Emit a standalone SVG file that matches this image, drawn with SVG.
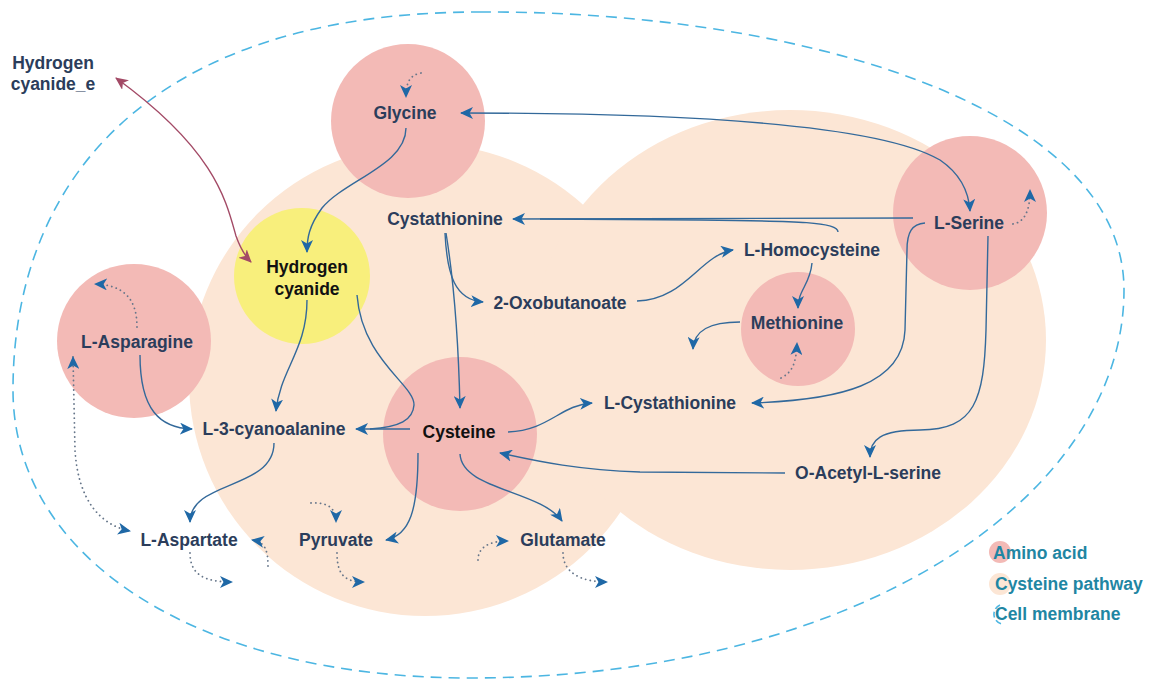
<svg xmlns="http://www.w3.org/2000/svg" width="1151" height="683" viewBox="0 0 1151 683">
<style>
.lbl{font-family:"Liberation Sans",Arial,sans-serif;font-weight:bold;font-size:17.5px;fill:#2b3d5b;text-anchor:middle}
.blk{fill:#111111}
.leg{font-family:"Liberation Sans",Arial,sans-serif;font-weight:bold;font-size:17.5px;fill:#1f86a3}
.aa{fill:#f3bab6}
.pw{fill:#fce6d5}
.hcn{fill:#f8ef7c}
.c{fill:none;stroke:#33699a;stroke-width:1.4}
.d{fill:none;stroke:#66768a;stroke-width:1.8;stroke-dasharray:0.1 4.6;stroke-linecap:round}
.m{fill:none;stroke:#a34a66;stroke-width:1.4}
</style>
<defs>
<marker id="ah" markerUnits="userSpaceOnUse" markerWidth="13" markerHeight="12" viewBox="0 0 13 12" refX="12" refY="6" orient="auto-start-reverse">
<path d="M0,0 L13,6 L0,12 L3.5,6 z" fill="#1f68a6"/>
</marker>
<marker id="ahm" markerUnits="userSpaceOnUse" markerWidth="13" markerHeight="12" viewBox="0 0 13 12" refX="12" refY="6" orient="auto-start-reverse">
<path d="M0,0 L13,6 L0,12 L3.5,6 z" fill="#a34a66"/>
</marker>
</defs>
<rect width="1151" height="683" fill="#ffffff"/>
<g id="cell-membrane">
<path d="M480,12 C780,10 1124,100 1124,290 C1124,500 850,678 470,678 C200,678 13,560 13,390 C13,180 150,12 480,12 Z" fill="none" stroke="#4cb6e2" stroke-width="1.6" stroke-dasharray="11 7"/>
</g>
<g id="cysteine-pathway">
<ellipse class="pw" cx="425" cy="380" rx="236" ry="236"/>
<ellipse class="pw" cx="790" cy="340" rx="256" ry="230"/>
</g>
<g id="node-glycine"><circle class="aa" cx="408" cy="121" r="77"/><text class="lbl" x="405" y="119">Glycine</text></g>
<g id="node-l-serine"><circle class="aa" cx="970" cy="213" r="77"/><text class="lbl" x="969" y="229">L-Serine</text></g>
<g id="node-l-asparagine"><circle class="aa" cx="134" cy="341" r="77"/><text class="lbl" x="137" y="348">L-Asparagine</text></g>
<g id="node-cysteine"><circle class="aa" cx="460" cy="434" r="77"/><text class="lbl blk" x="459" y="438">Cysteine</text></g>
<g id="node-methionine"><circle class="aa" cx="798" cy="329" r="57"/><text class="lbl" x="797" y="329">Methionine</text></g>
<g id="node-hydrogen-cyanide"><circle class="hcn" cx="302" cy="276" r="68"/><text class="lbl blk" x="307" y="273">Hydrogen</text><text class="lbl blk" x="307" y="295">cyanide</text></g>
<g id="node-hydrogen-cyanide-e"><text class="lbl" x="53" y="69">Hydrogen</text><text class="lbl" x="53" y="90">cyanide_e</text></g>
<g id="node-cystathionine"><text class="lbl" x="445" y="225">Cystathionine</text></g>
<g id="node-2-oxobutanoate"><text class="lbl" x="560" y="309">2-Oxobutanoate</text></g>
<g id="node-l-homocysteine"><text class="lbl" x="812" y="256">L-Homocysteine</text></g>
<g id="node-l-3-cyanoalanine"><text class="lbl" x="274" y="435">L-3-cyanoalanine</text></g>
<g id="node-l-cystathionine"><text class="lbl" x="670" y="409">L-Cystathionine</text></g>
<g id="node-o-acetyl-l-serine"><text class="lbl" x="868" y="479">O-Acetyl-L-serine</text></g>
<g id="node-l-aspartate"><text class="lbl" x="189" y="546">L-Aspartate</text></g>
<g id="node-pyruvate"><text class="lbl" x="336" y="546">Pyruvate</text></g>
<g id="node-glutamate"><text class="lbl" x="563" y="546">Glutamate</text></g>
<g id="connectors">
<path class="m" d="M116,78 C215,150 226,200 236,236 C241,250 245,256 251,262" marker-start="url(#ahm)" marker-end="url(#ahm)"/>
<path class="c" d="M406,128 C406,165 345,180 322,208 C309,226 307,238 307,252" marker-end="url(#ah)"/>
<path class="c" d="M461,113 C700,113 880,125 940,160 C962,175 969,195 970,211" marker-start="url(#ah)" marker-end="url(#ah)"/>
<path class="c" d="M913,218 L513,219" marker-end="url(#ah)"/>
<path class="c" d="M838,232 C838,222 800,221 700,220 L540,219"/>
<path class="c" d="M445,233 C447,275 455,300 483,302" marker-end="url(#ah)"/>
<path class="c" d="M446,233 C452,270 458,320 460,408" marker-end="url(#ah)"/>
<path class="c" d="M637,301 C685,300 700,255 733,250" marker-end="url(#ah)"/>
<path class="c" d="M812,263 C810,285 798,290 798,308" marker-end="url(#ah)"/>
<path class="c" d="M740,322 C710,322 694,330 693,349" marker-end="url(#ah)"/>
<path class="c" d="M925,223 C912,224 907,232 907,250 L905,330 C903,385 840,400 752,403" marker-end="url(#ah)"/>
<path class="c" d="M988,236 L986,330 C984,400 975,430 920,430 C880,430 870,440 870,457" marker-end="url(#ah)"/>
<path class="c" d="M785,473 L640,472 C580,470 540,462 500,453" marker-end="url(#ah)"/>
<path class="c" d="M508,432 C550,430 560,405 592,403" marker-end="url(#ah)"/>
<path class="c" d="M410,429 L356,429" marker-end="url(#ah)"/>
<path class="c" d="M357,295 C362,360 415,385 414,405 C413,420 400,427 370,429"/>
<path class="c" d="M307,300 C307,350 280,370 276,411" marker-end="url(#ah)"/>
<path class="c" d="M140,355 C140,410 160,428 192,429" marker-end="url(#ah)"/>
<path class="c" d="M274,443 C274,490 190,480 190,522" marker-end="url(#ah)"/>
<path class="c" d="M418,453 C418,510 410,535 386,540" marker-end="url(#ah)"/>
<path class="c" d="M460,454 C462,490 540,490 562,521" marker-end="url(#ah)"/>
<path class="d" d="M421,73 C410,75 406,82 406,97" marker-end="url(#ah)"/>
<path class="d" d="M1013,224 C1025,222 1030,210 1030,190" marker-end="url(#ah)"/>
<path class="d" d="M781,378 C792,372 796,365 797,343" marker-end="url(#ah)"/>
<path class="d" d="M137,327 C137,300 125,285 95,284" marker-end="url(#ah)"/>
<path class="d" d="M73,357 L75,450 C78,500 100,525 130,531" marker-start="url(#ah)" marker-end="url(#ah)"/>
<path class="d" d="M190,553 C190,575 205,582 232,582" marker-end="url(#ah)"/>
<path class="d" d="M268,566 C268,550 265,542 252,540" marker-end="url(#ah)"/>
<path class="d" d="M311,503 C330,502 336,510 336,522" marker-end="url(#ah)"/>
<path class="d" d="M337,553 C337,575 345,582 364,582" marker-end="url(#ah)"/>
<path class="d" d="M478,560 C478,548 488,541 508,541" marker-end="url(#ah)"/>
<path class="d" d="M563,553 C563,572 580,582 607,582" marker-end="url(#ah)"/>
</g>
<g id="legend">
<circle class="aa" cx="1000" cy="552" r="11"/>
<text class="leg" x="993" y="559">Amino acid</text>
<circle class="pw" cx="1000" cy="584" r="11"/>
<text class="leg" x="995" y="590">Cysteine pathway</text>
<path d="M1000,605 A10,10 0 0 0 1002,624" fill="none" stroke="#4cb6e2" stroke-width="1.6" stroke-dasharray="6 3"/>
<text class="leg" x="995" y="620">Cell membrane</text>
</g>
</svg>
